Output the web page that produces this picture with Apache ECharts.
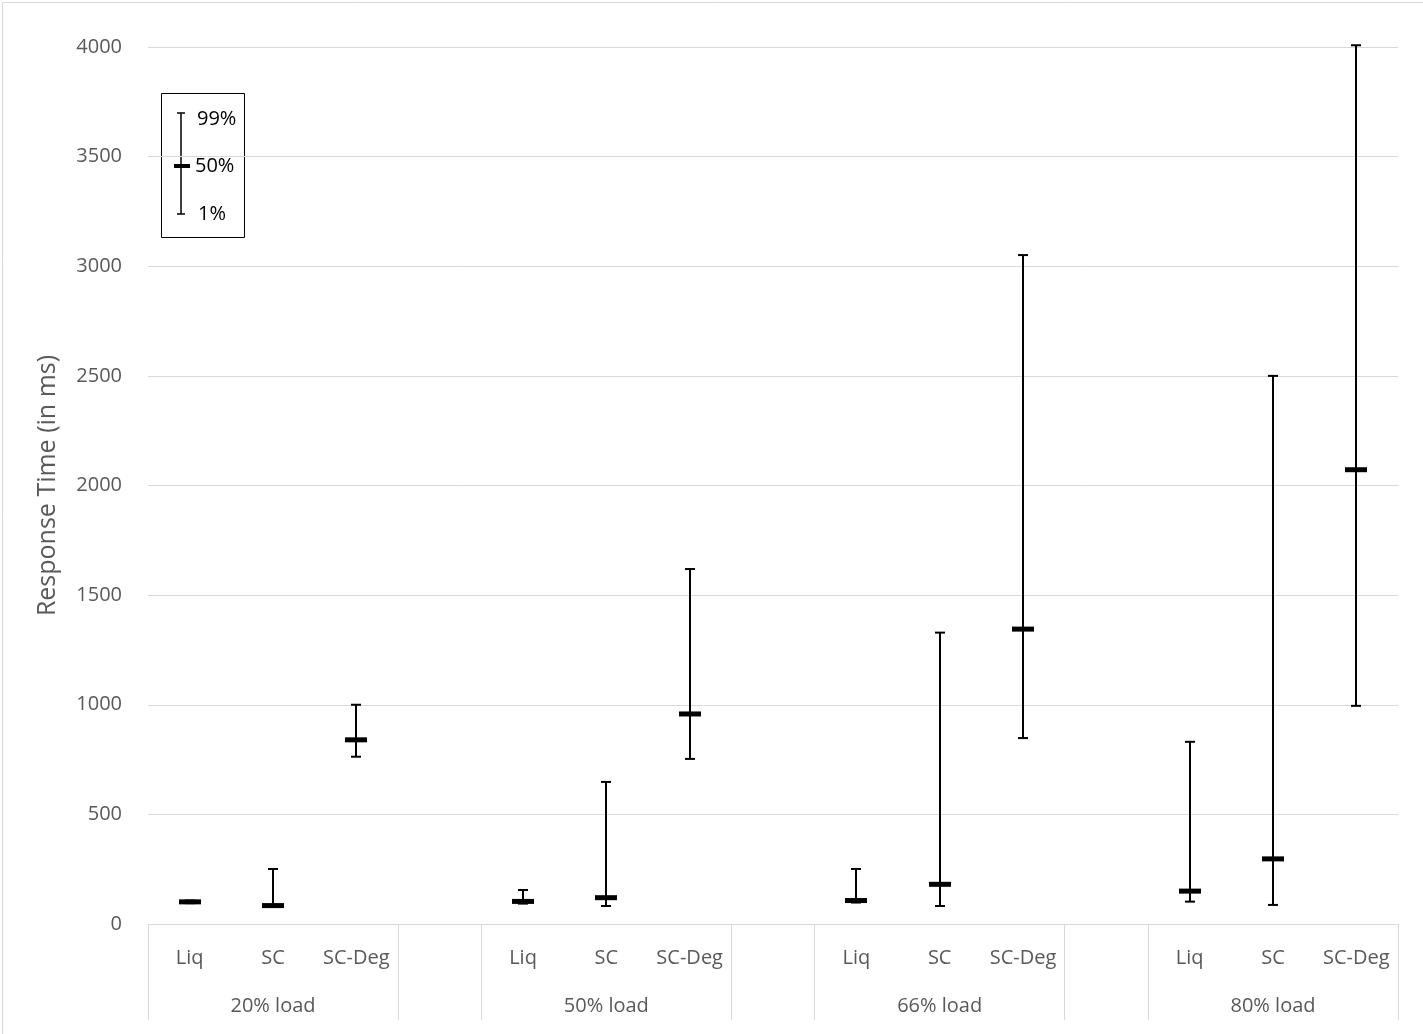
<!DOCTYPE html>
<html>
<head>
<meta charset="utf-8">
<script src="https://cdn.jsdelivr.net/npm/echarts@6/dist/echarts.min.js"></script>
<style>
  html, body { margin: 0; padding: 0; background: #fff; }
  #main { width: 1423px; height: 1034px; }
</style>
</head>
<body>
<div id="main"></div>
<script>
// categories: 4 load groups, 3 systems each, a blank slot between groups
var groups = ['20% load', '50% load', '66% load', '80% load'];
var systems = ['Liq', 'SC', 'SC-Deg'];

// percentiles per system, one value per load group (ms)
var p1 = {
  'Liq':    [95, 93, 98, 102],
  'SC':     [80, 82, 82, 87],
  'SC-Deg': [763, 753, 848, 995]
};
var p50 = {
  'Liq':    [101, 103, 107, 150],
  'SC':     [84, 120, 181, 297],
  'SC-Deg': [840, 958, 1345, 2072]
};
var p99 = {
  'Liq':    [107, 155, 251, 831],
  'SC':     [251, 648, 1329, 2500],
  'SC-Deg': [1000, 1619, 3051, 4008]
};

var yTicks = { min: 0, max: 4000, interval: 500 };

// build the 15 slots of the category axis
var slots = [];
var groupRow = [];
var boxData = [];
groups.forEach(function (g, gi) {
  systems.forEach(function (s, si) {
    var idx = slots.length;
    slots.push(s);
    groupRow.push(si === 1 ? g : '');
    boxData.push([idx, p1[s][gi], p50[s][gi], p99[s][gi]]);
  });
  if (gi < groups.length - 1) {
    slots.push('');
    groupRow.push('');
  }
});

// ticks at group edges
var edgeTicks = [];
slots.forEach(function (s, i) {
  if (s === systems[0] || s === '') edgeTicks.push(i);
});

var font = '"Open Sans", "Liberation Sans", sans-serif';
var grey = '#595959';
var lineGrey = '#d9d9d9';

function renderItem(params, api) {
  var x = api.value(0);
  var lo = api.coord([x, api.value(1)]);
  var md = api.coord([x, api.value(2)]);
  var hi = api.coord([x, api.value(3)]);
  var cx = Math.round(lo[0]);
  var ink = { stroke: '#000', lineWidth: 2 };
  return {
    type: 'group',
    children: [
      { type: 'line', shape: { x1: cx, y1: hi[1], x2: cx, y2: lo[1] }, style: ink },
      { type: 'line', shape: { x1: cx - 5, y1: hi[1], x2: cx + 5, y2: hi[1] }, style: ink },
      { type: 'line', shape: { x1: cx - 5, y1: lo[1], x2: cx + 5, y2: lo[1] }, style: ink },
      { type: 'rect', shape: { x: cx - 11, y: md[1] - 2.5, width: 22, height: 5 }, style: { fill: '#000' } }
    ]
  };
}

var myChart = echarts.init(document.getElementById('main'));
myChart.setOption({
  backgroundColor: '#fff',
  animation: false,
  grid: { left: 148, right: 25, top: 47, bottom: 110, containLabel: false },
  xAxis: [
    {
      type: 'category',
      data: slots,
      position: 'bottom',
      axisLine: { show: true, lineStyle: { color: lineGrey, width: 1 } },
      axisTick: { show: false },
      axisLabel: { interval: 0, margin: 24, fontFamily: font, fontSize: 20, color: grey },
      splitLine: { show: false }
    },
    {
      type: 'category',
      data: groupRow,
      position: 'bottom',
      axisLine: { show: false },
      axisTick: {
        show: true, length: 96,
        interval: function (i) { return edgeTicks.indexOf(i) >= 0; },
        lineStyle: { color: lineGrey, width: 1 }
      },
      axisLabel: { interval: 0, margin: 72, fontFamily: font, fontSize: 20, color: grey },
      splitLine: { show: false }
    }
  ],
  yAxis: {
    type: 'value',
    min: yTicks.min,
    max: yTicks.max,
    interval: yTicks.interval,
    name: 'Response Time (in ms)',
    nameLocation: 'middle',
    nameGap: 88,
    nameTextStyle: { fontFamily: font, fontSize: 25, color: grey },
    axisLine: { show: false },
    axisTick: { show: false },
    axisLabel: {
      margin: 26, fontFamily: font, fontSize: 20, color: grey,
      formatter: function (v) { return String(v); }
    },
    splitLine: { lineStyle: { color: lineGrey, width: 1 } }
  },
  series: [{
    type: 'custom',
    xAxisIndex: 0,
    renderItem: renderItem,
    encode: { x: 0, y: [1, 2, 3] },
    data: boxData,
    z: 5
  }],
  graphic: [
    {
      type: 'rect', left: 0, top: 0, silent: true,
      shape: { x: 0.5, y: 0.5, width: 1422, height: 1033 },
      style: { fill: 'none', stroke: lineGrey, lineWidth: 1 }
    },
    {
      type: 'group', left: 159, top: 91,
      children: [
        { type: 'rect', shape: { x: 0.5, y: 0.5, width: 83, height: 144 }, style: { fill: 'none', stroke: '#000', lineWidth: 1 } },
        { type: 'line', shape: { x1: 20, y1: 20, x2: 20, y2: 121 }, style: { stroke: '#000', lineWidth: 1.5 } },
        { type: 'line', shape: { x1: 16, y1: 20, x2: 24, y2: 20 }, style: { stroke: '#000', lineWidth: 1.5 } },
        { type: 'line', shape: { x1: 16, y1: 121, x2: 24, y2: 121 }, style: { stroke: '#000', lineWidth: 1.5 } },
        { type: 'rect', shape: { x: 13, y: 71, width: 16, height: 4 }, style: { fill: '#000' } },
        { type: 'text', x: 36, y: 26, style: { text: '99%', font: '20px ' + font, fill: '#000', verticalAlign: 'middle' } },
        { type: 'text', x: 34, y: 73, style: { text: '50%', font: '20px ' + font, fill: '#000', verticalAlign: 'middle' } },
        { type: 'text', x: 37, y: 121, style: { text: '1%', font: '20px ' + font, fill: '#000', verticalAlign: 'middle' } }
      ]
    }
  ]
});
</script>
</body>
</html>
